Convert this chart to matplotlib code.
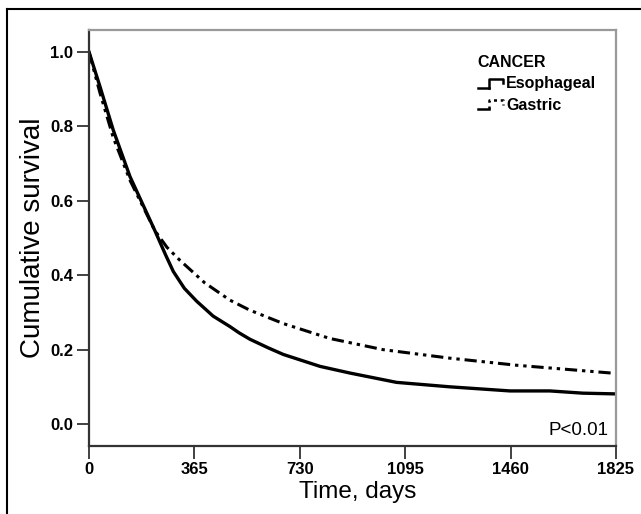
import matplotlib
matplotlib.use("Agg")
import matplotlib.pyplot as plt
from matplotlib.lines import Line2D
from matplotlib.legend_handler import HandlerBase

# Kaplan-Meier curves (days, cumulative survival)
esoph_days = [0, 38, 84, 142, 228, 265, 292, 330, 373, 430, 488, 520, 557, 620, 673, 800, 904, 1065, 1250, 1458, 1596, 1710, 1825]
esoph_surv = [1.0, 0.907, 0.79, 0.665, 0.52, 0.455, 0.41, 0.365, 0.33, 0.29, 0.262, 0.245, 0.228, 0.205, 0.187, 0.155, 0.137, 0.112, 0.10, 0.089, 0.089, 0.083, 0.081]

gastric_days = [0, 38, 84, 142, 228, 270, 315, 400, 488, 557, 673, 834, 1018, 1250, 1481, 1654, 1825]
gastric_surv = [1.0, 0.89, 0.77, 0.655, 0.52, 0.475, 0.44, 0.38, 0.333, 0.306, 0.27, 0.23, 0.20, 0.177, 0.158, 0.147, 0.136]

x_ticks = [0, 365, 730, 1095, 1460, 1825]
y_ticks = [0.0, 0.2, 0.4, 0.6, 0.8, 1.0]

plt.rcParams['font.family'] = ['Liberation Sans', 'DejaVu Sans']

DASH = (0, (4, 1.6, 1.1, 1.6, 1.1, 1.6))


class StepHandler(HandlerBase):
    # small step glyph, like the SPSS legend
    def __init__(self, ls):
        super().__init__()
        self.ls = ls

    def create_artists(self, legend, orig_handle, xdescent, ydescent,
                       width, height, fontsize, trans):
        x0, y0 = -xdescent, -ydescent
        xm = x0 + 0.45 * width
        lo, hi = y0 + 0.05 * height, y0 + 0.85 * height
        base = Line2D([x0, xm], [lo, lo], color='black', lw=1.8, transform=trans)
        step = Line2D([xm, xm, x0 + width, x0 + width], [lo, hi, hi, y0 + 0.45 * height],
                      color='black', lw=1.8, linestyle=self.ls, transform=trans)
        return [base, step]


fig = plt.figure(figsize=(6.41, 5.14), dpi=100)
ax = fig.add_axes([89 / 641, 1 - 446 / 514, (616 - 89) / 641, (446 - 30) / 514])

h1, = ax.plot(esoph_days, esoph_surv, color='black', lw=2.4, solid_joinstyle='round')
h2, = ax.plot(gastric_days, gastric_surv, color='black', lw=2.2, linestyle=DASH)

ax.set_xlim(0, 1825)
ax.set_ylim(-0.059, 1.059)
ax.set_xticks(x_ticks)
ax.set_yticks(y_ticks)
ax.set_yticklabels([f"{v:.1f}" for v in y_ticks])
ax.tick_params(axis='both', direction='out', length=9, width=1.3, color='#333333',
               labelsize=12, pad=2.5)
for lab in ax.get_xticklabels() + ax.get_yticklabels():
    lab.set_fontweight('bold')

for side in ['left', 'bottom']:
    ax.spines[side].set_color('#333333')
    ax.spines[side].set_linewidth(1.6)
for side in ['top', 'right']:
    ax.spines[side].set_color('#999999')
    ax.spines[side].set_linewidth(1.6)

ax.set_xlabel("Time, days", fontsize=17.5)
ax.xaxis.set_label_coords(0.51, -0.085)
ax.set_ylabel("Cumulative survival", fontsize=20, labelpad=3)

ax.text(0.985, 0.038, "P<0.01", transform=ax.transAxes, ha='right', va='center', fontsize=13.5)

leg = ax.legend([h1, h2], ["Esophageal", "Gastric"], title="CANCER",
                handler_map={h1: StepHandler('-'), h2: StepHandler((0, (1.2, 1.5)))},
                loc='upper left', bbox_to_anchor=(0.71, 0.975), frameon=False,
                handlelength=1.6, handletextpad=0.2, labelspacing=0.4,
                fontsize=11.5, alignment='left')
leg.get_title().set_fontweight('bold')
leg.get_title().set_fontsize(11.5)
for t in leg.get_texts():
    t.set_fontweight('bold')

# outer frame of the original figure (only the left and top edges are visible)
fig.add_artist(Line2D([7 / 641, 7 / 641], [0, 1 - 9 / 514], transform=fig.transFigure,
                      color='black', lw=1.5))
fig.add_artist(Line2D([7 / 641, 1], [1 - 9 / 514, 1 - 9 / 514], transform=fig.transFigure,
                      color='black', lw=1.5))

fig.savefig("out.png", dpi=100)
